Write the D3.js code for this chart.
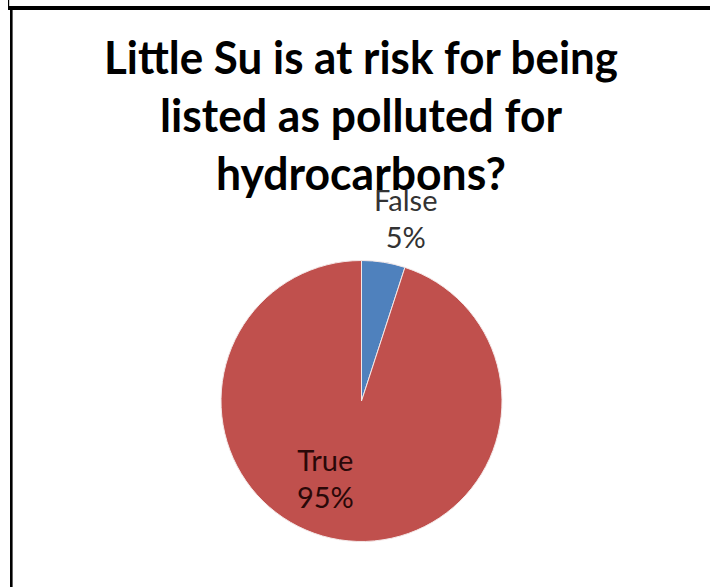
<!DOCTYPE html>
<html>
<head>
<meta charset="utf-8">
<script src="https://cdn.jsdelivr.net/npm/d3@7"></script>
<style>
  html, body { margin: 0; padding: 0; background: #fff; }
  svg { display: block; }
</style>
</head>
<body>
<svg id="chart" width="710" height="587"></svg>
<script>
// Pie data
const categories = ["False", "True"];
const values = [5, 95];
const colors = ["#4F81BD", "#C0504D"];
const titleLines = [
  "Little Su is at risk for being",
  "listed as polluted for",
  "hydrocarbons?"
];

const W = 710, H = 587;
const svg = d3.select("#chart");

// Frame lines (top and left edges)
svg.append("rect").attr("x", 8).attr("y", 0).attr("width", 1.2).attr("height", 7).attr("fill", "#000");
svg.append("rect").attr("x", 8).attr("y", 6).attr("width", W - 8).attr("height", 4).attr("fill", "#000");
svg.append("rect").attr("x", 10).attr("y", 10).attr("width", 2.6).attr("height", H - 10).attr("fill", "#000");

// Title
const titleWidths = [514, 402, 290];
const title = svg.append("g")
  .attr("font-family", "Lato, 'Open Sans', sans-serif")
  .attr("font-weight", "bold")
  .attr("font-size", 45)
  .attr("fill", "#000")
  .attr("text-anchor", "middle");
titleLines.forEach((t, i) => {
  title.append("text")
    .attr("x", 361)
    .attr("y", 74 + i * 58)
    .attr("textLength", titleWidths[i])
    .attr("lengthAdjust", "spacingAndGlyphs")
    .text(t);
});

// Pie
const cx = 361.5, cy = 401, r = 140.5;
const total = d3.sum(values);
const data = categories.map((c, i) => ({ category: c, value: values[i], color: colors[i] }));
const pie = d3.pie().value(d => d.value).sort(null);
const arcs = pie(data);
const arc = d3.arc().innerRadius(0).outerRadius(r);

const g = svg.append("g").attr("transform", `translate(${cx},${cy})`);
g.selectAll("path.slice")
  .data(arcs)
  .join("path")
  .attr("class", "slice")
  .attr("d", arc)
  .attr("fill", d => d.data.color)
  .attr("stroke", "#f4e8e8")
  .attr("stroke-width", 1);

// Data labels: small slice outside, large slice inside
const outerLabel = d3.arc().innerRadius(r * 1.33).outerRadius(r * 1.33);
const innerLabel = d3.arc().innerRadius(r * 0.6).outerRadius(r * 0.6);
const nudge = { "False": [15, 0], "True": [-23, -8] };

const labels = g.selectAll("g.lbl")
  .data(arcs)
  .join("g")
  .attr("class", "lbl")
  .attr("transform", d => {
    const small = d.value / total < 0.15;
    const [x, y] = (small ? outerLabel : innerLabel).centroid(d);
    const n = nudge[d.data.category];
    return `translate(${x + n[0]},${y + n[1]})`;
  })
  .attr("font-family", "Lato, 'Open Sans', sans-serif")
  .attr("font-size", 29)
  .attr("text-anchor", "middle");

labels.append("text")
  .attr("y", -5)
  .attr("fill", d => d.value / total < 0.15 ? "#333" : "#2a0808")
  .text(d => d.data.category);
labels.append("text")
  .attr("y", 32)
  .attr("fill", d => d.value / total < 0.15 ? "#333" : "#2a0808")
  .text(d => d3.format(".0%")(d.value / total));
</script>
</body>
</html>
